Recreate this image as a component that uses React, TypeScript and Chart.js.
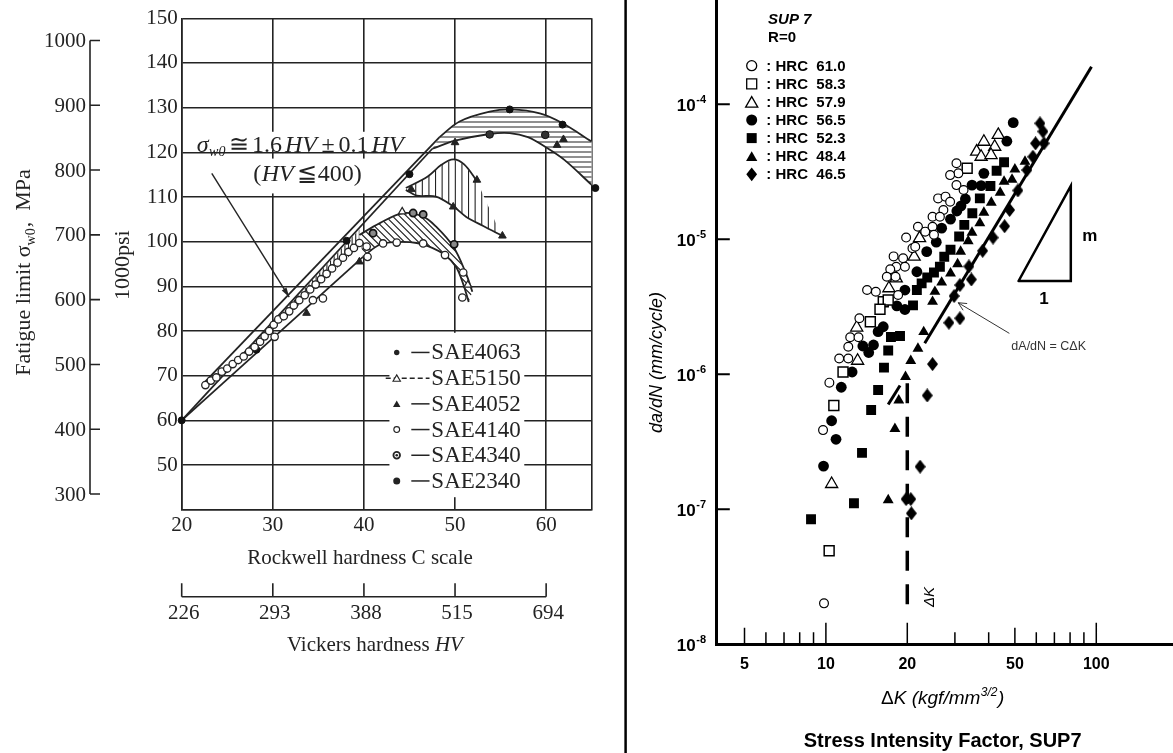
import React, { useEffect, useRef } from 'react';
import { Chart, registerables } from 'chart.js';

Chart.register(...registerables);

const SERIF = "'Liberation Serif', 'DejaVu Serif', 'Times New Roman', serif";
const SANS = "'Liberation Sans', Arial, Helvetica, sans-serif";
const INK = '#232323';
Chart.defaults.font.family = SANS;

/* ================= LEFT CHART DATA (fatigue limit vs hardness) ================= */
const rockwellTicks = [20, 30, 40, 50, 60, 65];
const rockwellTickLabels = ['20', '30', '40', '50', '60', ''];
const psiTicks = [40, 50, 60, 70, 80, 90, 100, 110, 120, 130, 140, 150];
const mpaTicks = [300, 400, 500, 600, 700, 800, 900, 1000];
const vickersAtRockwell = [20, 30, 40, 50, 60];
const vickersLabels = ['226', '293', '388', '515', '694'];
const steelNames = ['SAE4063', 'SAE5150', 'SAE4052', 'SAE4140', 'SAE4340', 'SAE2340'];

const sae4063 = [[20.0, 60.0], [28.2, 75.8], [38.1, 100.2], [45.0, 115.1], [56.0, 129.6], [61.8, 126.2], [65.4, 112.0]];
const sae5150 = [[44.2, 106.7], [51.4, 90.3]];
const sae4052 = [[33.7, 84.0], [39.5, 95.5], [45.2, 111.7], [49.8, 107.8], [50.0, 122.2], [52.4, 113.8], [55.2, 101.3], [61.2, 121.6], [61.9, 122.9]];
const sae4140 = [
  [22.6, 67.9], [23.2, 68.9], [23.8, 69.6], [24.4, 70.9], [25.0, 71.6], [25.6, 72.6], [26.2, 73.5], [26.8, 74.3],
  [27.4, 75.4], [28.0, 76.4], [28.6, 77.6], [29.1, 78.8], [29.6, 80.0], [30.1, 81.4], [30.2, 78.7], [30.6, 82.6],
  [31.2, 83.3], [31.8, 84.4], [32.3, 85.7], [32.9, 86.9], [33.5, 88.0], [34.1, 89.3], [34.4, 86.9], [34.7, 90.4],
  [35.3, 91.6], [35.5, 87.3], [35.9, 92.8], [36.5, 94.0], [37.1, 95.3], [37.7, 96.4], [38.3, 97.7], [38.9, 98.6],
  [39.5, 99.7], [40.3, 98.9], [40.4, 96.6], [42.1, 99.6], [43.6, 99.8], [46.5, 99.6], [48.9, 97.0], [50.9, 93.1], [50.8, 87.5],
];
const sae4340 = [[41.0, 101.9], [45.4, 106.4], [46.5, 106.1], [49.9, 99.4]];
const sae2340 = [[53.8, 124.0], [59.9, 123.9]];

const bandUpper = [[22.4, 68.3], [48.3, 123.4]];
const curveAUpper = [[48.3, 123.4], [50.5, 126.9], [53.8, 129.1], [56.2, 129.6], [59.3, 128.7], [61.8, 126.5], [65.0, 122.4]];
const bandMiddle = [[20.0, 60.0], [47.5, 120.8]];
const curveALower = [[47.5, 120.8], [50.0, 122.6], [53.8, 124.1], [56.0, 124.3], [58.0, 123.4], [60.0, 121.1], [62.0, 118.3], [65.0, 112.7]];
const bandLower = [[20.0, 60.0], [39.9, 96.6]];
const curveCLower = [[39.9, 96.6], [41.7, 99.3], [43.6, 99.9], [45.8, 99.7], [47.5, 98.6], [48.9, 97.0], [50.1, 94.4], [50.9, 90.5], [51.5, 86.5]];
const curveCUpper = [[39.5, 101.5], [41.7, 104.1], [44.3, 106.4], [46.5, 105.6], [47.9, 103.4], [49.8, 98.9], [51.2, 92.9], [51.9, 88.8]];
const curveBUpper = [[44.6, 112.0], [47.0, 114.6], [48.5, 117.2], [49.8, 118.4], [51.0, 117.3], [52.4, 113.6]];
const curveBLower = [[44.6, 111.6], [45.8, 110.3], [47.9, 110.1], [49.8, 107.9], [51.2, 105.6], [53.1, 103.5], [55.1, 101.4]];
const bandHatch = [[31.0, 84.0], [39.5, 102.8], [39.5, 99.0], [31.0, 82.0]];

/* ================= RIGHT CHART DATA (da/dN vs deltaK, SUP7) ================= */
const deltaKTicks = [5, 6, 7, 8, 9, 10, 20, 30, 40, 50, 60, 70, 80, 90, 100];
const deltaKLabels = ['5', '', '', '', '', '10', '20', '', '', '50', '', '', '', '', '100'];
const rateDecades = [1e-8, 1e-7, 1e-6, 1e-5, 1e-4];
const rateExponents = ['-8', '-7', '-6', '-5', '-4'];
const hardnessLabels = ['HRC  61.0', 'HRC  58.3', 'HRC  57.9', 'HRC  56.5', 'HRC  52.3', 'HRC  48.4', 'HRC  46.5'];

const hrc610 = [
  [30.4, 3.66e-5], [30.9, 3.08e-5], [28.8, 2.99e-5], [30.4, 2.52e-5], [32.3, 2.32e-5], [26.0, 2.01e-5], [27.7, 2.07e-5],
  [28.8, 1.90e-5], [27.2, 1.65e-5], [24.8, 1.47e-5], [26.4, 1.47e-5], [21.9, 1.24e-5], [23.3, 1.14e-5], [24.8, 1.24e-5],
  [25.1, 1.08e-5], [19.8, 1.03e-5], [20.9, 8.58e-6], [21.4, 8.81e-6], [19.3, 7.23e-6], [18.2, 6.26e-6], [19.6, 6.26e-6],
  [17.8, 7.47e-6], [17.3, 6.0e-6], [16.8, 5.28e-6], [18.1, 5.28e-6], [14.2, 4.21e-6], [15.3, 4.09e-6], [18.5, 3.87e-6],
  [13.3, 2.60e-6], [12.3, 1.88e-6], [13.2, 1.88e-6], [12.1, 1.60e-6], [11.2, 1.31e-6], [12.1, 1.31e-6], [10.3, 8.67e-7],
  [9.76, 3.86e-7], [9.84, 2.01e-8],
];
const hrc583 = [[33.3, 3.36e-5], [16.3, 3.45e-6], [17.0, 3.55e-6], [15.85, 3.03e-6], [14.6, 2.45e-6], [11.57, 1.04e-6], [10.7, 5.87e-7], [10.28, 4.93e-8]];
const hrc579 = [
  [43.4, 5.93e-5], [38.4, 5.28e-5], [42.1, 4.85e-5], [36.1, 4.46e-5], [37.5, 4.09e-5], [40.8, 4.21e-5], [22.2, 1.02e-5],
  [21.2, 7.43e-6], [18.2, 5.14e-6], [17.1, 4.34e-6], [13.0, 2.22e-6], [13.1, 1.26e-6], [10.5, 1.54e-7],
];
const hrc565 = [
  [49.3, 7.31e-5], [46.7, 5.33e-5], [38.4, 3.08e-5], [34.7, 2.52e-5], [37.5, 2.50e-5], [32.8, 1.99e-5], [31.6, 1.77e-5],
  [30.5, 1.62e-5], [28.9, 1.41e-5], [26.8, 1.21e-5], [25.6, 9.52e-6], [23.6, 8.1e-6], [21.7, 5.75e-6], [19.6, 4.21e-6],
  [18.3, 3.21e-6], [19.6, 3.02e-6], [16.3, 2.25e-6], [15.6, 2.07e-6], [13.7, 1.62e-6], [14.4, 1.45e-6], [15.0, 1.65e-6],
  [12.5, 1.04e-6], [11.4, 8.02e-7], [10.5, 4.53e-7], [10.9, 3.30e-7], [9.8, 2.09e-7],
];
const hrc523 = [
  [45.6, 3.72e-5], [42.8, 3.22e-5], [40.6, 2.48e-5], [37.1, 2.01e-5], [34.8, 1.56e-5], [32.5, 1.28e-5], [31.1, 1.05e-5],
  [28.9, 8.37e-6], [27.4, 7.43e-6], [26.4, 6.26e-6], [25.1, 5.68e-6], [23.7, 5.21e-6], [22.6, 4.72e-6], [21.7, 4.21e-6],
  [21.0, 3.24e-6], [18.8, 1.92e-6], [17.4, 1.89e-6], [17.0, 1.50e-6], [16.4, 1.12e-6], [15.6, 7.65e-7], [14.7, 5.44e-7],
  [13.6, 2.62e-7], [12.7, 1.11e-7], [8.81, 8.43e-8],
];
const hrc484 = [
  [54.5, 3.76e-5], [50.0, 3.30e-5], [48.8, 2.77e-5], [45.6, 2.68e-5], [44.1, 2.22e-5], [40.9, 1.87e-5], [38.4, 1.58e-5],
  [37.1, 1.32e-5], [34.7, 1.12e-5], [33.6, 9.71e-6], [31.5, 8.1e-6], [30.7, 6.56e-6], [28.9, 5.6e-6], [26.8, 4.79e-6],
  [25.3, 4.09e-6], [24.8, 3.45e-6], [23.0, 2.06e-6], [21.9, 1.55e-6], [20.6, 1.26e-6], [19.7, 9.59e-7], [18.6, 6.41e-7],
  [18.0, 3.94e-7], [17.0, 1.17e-7],
];
const hrc465 = [
  [61.9, 7.23e-5], [63.5, 6.29e-5], [59.6, 5.14e-5], [64.1, 5.14e-5], [58.3, 4.09e-5], [55.4, 3.26e-5], [51.3, 2.3e-5],
  [47.8, 1.65e-5], [45.8, 1.25e-5], [41.5, 1.03e-5], [38.0, 8.22e-6], [33.8, 6.3e-6], [34.5, 5.04e-6], [31.3, 4.58e-6],
  [29.8, 3.8e-6], [28.5, 2.41e-6], [31.3, 2.6e-6], [24.8, 1.19e-6], [23.7, 6.97e-7], [22.3, 2.07e-7], [20.6, 1.19e-7],
  [19.8, 1.19e-7], [20.7, 9.33e-8],
];
const powerLaw = [[23.2, 1.70e-6], [96.0, 1.9e-4]];
const powerLawDash = [[17.0, 5.97e-7], [18.8, 8.26e-7]];
const thresholdLine = [[20, 8.6e-7], [20, 1.92e-8]];
const slopeTriangle = [[51.6, 4.91e-6], [80.5, 4.91e-6], [80.5, 2.49e-5], [51.6, 4.91e-6]];

/* ================= helpers ================= */
const toPts = (pairs: number[][]) => pairs.map(([x, y]) => ({ x, y }));

function drawMarker(ctx: any, kind: string, x: number, y: number, r: number, filled: boolean, lw = 1.3, color = '#000') {
  ctx.save();
  ctx.beginPath();
  if (kind === 'circle') ctx.arc(x, y, r, 0, Math.PI * 2);
  else if (kind === 'square') ctx.rect(x - r, y - r, 2 * r, 2 * r);
  else if (kind === 'triangle') {
    ctx.moveTo(x, y - r);
    ctx.lineTo(x + r * 0.866, y + r * 0.5);
    ctx.lineTo(x - r * 0.866, y + r * 0.5);
    ctx.closePath();
  } else if (kind === 'diamond') {
    ctx.moveTo(x, y - r * 1.27);
    ctx.lineTo(x + r, y);
    ctx.lineTo(x, y + r * 1.27);
    ctx.lineTo(x - r, y);
    ctx.closePath();
  }
  if (filled) {
    ctx.fillStyle = color;
    ctx.fill();
  } else {
    ctx.fillStyle = '#fff';
    ctx.fill();
    ctx.lineWidth = lw;
    ctx.strokeStyle = color;
    ctx.stroke();
  }
  ctx.restore();
}

function hatchRegion(chart: any, pairs: number[][], mode: string, gap: number) {
  const { ctx } = chart;
  const X = chart.scales.x;
  const Y = chart.scales.y;
  const pts = pairs.map(([x, y]) => [X.getPixelForValue(x), Y.getPixelForValue(y)]);
  let x0 = Infinity, x1 = -Infinity, y0 = Infinity, y1 = -Infinity;
  pts.forEach(([a, b]) => {
    x0 = Math.min(x0, a); x1 = Math.max(x1, a); y0 = Math.min(y0, b); y1 = Math.max(y1, b);
  });
  ctx.save();
  ctx.beginPath();
  pts.forEach(([a, b], i) => (i ? ctx.lineTo(a, b) : ctx.moveTo(a, b)));
  ctx.closePath();
  ctx.fillStyle = '#fff';
  ctx.fill();
  ctx.clip();
  ctx.beginPath();
  if (mode === 'h') {
    for (let y = y0 + gap / 2; y < y1; y += gap) { ctx.moveTo(x0, y); ctx.lineTo(x1, y); }
  } else if (mode === 'v') {
    for (let x = x0 + gap / 2; x < x1; x += gap) { ctx.moveTo(x, y0); ctx.lineTo(x, y1); }
  } else {
    const h = y1 - y0;
    for (let x = x0 - h; x < x1; x += gap) { ctx.moveTo(x, y0); ctx.lineTo(x + h, y1); }
  }
  ctx.strokeStyle = INK;
  ctx.lineWidth = 1.1;
  ctx.stroke();
  ctx.restore();
}

type Run = [string, string, number?, number?];
function runsWidth(ctx: any, runs: Run[]) {
  let w = 0;
  runs.forEach(([t, f, , g]) => { ctx.font = f; w += ctx.measureText(t).width + (g || 0); });
  return w;
}
function drawRuns(ctx: any, x: number, y: number, runs: Run[]) {
  let cx = x;
  runs.forEach(([t, f, dy, g]) => {
    ctx.font = f;
    ctx.fillText(t, cx, y + (dy || 0));
    cx += ctx.measureText(t).width + (g || 0);
  });
}

/* ================= LEFT CHART ================= */
const leftDecor = {
  id: 'leftDecor',
  beforeDatasetsDraw(chart: any) {
    const { ctx } = chart;
    const X = chart.scales.x;
    const Y = chart.scales.y;
    const box = (xa: number, xb: number, ya: number, yb: number) => {
      const l = X.getPixelForValue(xa), r = X.getPixelForValue(xb);
      const t = Y.getPixelForValue(yb), b = Y.getPixelForValue(ya);
      ctx.fillRect(l, t, r - l, b - t);
    };
    ctx.save();
    ctx.fillStyle = '#fff';
    box(42.8, 57.6, 42.8, 79.6); // legend panel
    box(21.3, 46.3, 120.5, 124.6); // formula line 1
    box(27.4, 41.2, 110.8, 118.6); // formula line 2
    ctx.restore();
    hatchRegion(chart, bandHatch, 'v', 3.6);
    hatchRegion(chart, [...curveCUpper, ...curveCLower.slice().reverse()], 'd', 7);
    hatchRegion(chart, [...curveBUpper, ...curveBLower.slice().reverse()], 'v', 6.6);
    hatchRegion(chart, [...curveAUpper, ...curveALower.slice().reverse()], 'h', 5);
  },
  afterDatasetsDraw(chart: any) {
    const { ctx } = chart;
    const X = chart.scales.x;
    const Y = chart.scales.y;
    ctx.save();
    ctx.fillStyle = INK;
    ctx.strokeStyle = INK;
    // legend
    const top = Y.getPixelForValue(75.2);
    const mx = X.getPixelForValue(43.6);
    const d0 = X.getPixelForValue(45.2);
    const d1 = X.getPixelForValue(47.2);
    const tx = X.getPixelForValue(47.4);
    const kinds = [
      ['circle', true, 2.7], ['triangle', false, 4.3], ['triangle', true, 4.3],
      ['circle', false, 2.9], ['ring', true, 3.3], ['circle', true, 3.5],
    ];
    steelNames.forEach((name, i) => {
      const y = top + i * 25.7;
      ctx.lineWidth = 1.5;
      ctx.setLineDash(i === 1 ? [5, 3] : []);
      ctx.beginPath();
      if (i === 1) { ctx.moveTo(mx - 11, y); ctx.lineTo(d1, y); } else { ctx.moveTo(d0, y); ctx.lineTo(d1, y); }
      ctx.stroke();
      ctx.setLineDash([]);
      const [k, f, r] = kinds[i] as any;
      if (k === 'ring') {
        drawMarker(ctx, 'circle', mx, y, r, false, 1.8, INK);
        drawMarker(ctx, 'circle', mx, y, 1.3, true, 1, INK);
      } else {
        drawMarker(ctx, k, mx, y + (k === 'triangle' ? 1 : 0), r, f, 1.1, INK);
      }
      ctx.font = `23px ${SERIF}`;
      ctx.textAlign = 'left';
      ctx.textBaseline = 'middle';
      ctx.fillText(name, tx, y + 1);
    });
    // formula
    const base1 = Y.getPixelForValue(120) - 0.5;
    ctx.textAlign = 'left';
    ctx.textBaseline = 'alphabetic';
    const it = `italic 24px ${SERIF}`;
    const up = `24px ${SERIF}`;
    drawRuns(ctx, X.getPixelForValue(21.65), base1, [
      ['σ', it, 0, 0.5], ['w0', `italic 14px ${SERIF}`, 4, 3.5], ['≅', up, 0, 3], ['1.6', up, 0, 3],
      ['HV', it, 0, 4.5], ['±', up, 0, 4], ['0.1', up, 0, 3], ['HV', it, 0, 0],
    ]);
    drawRuns(ctx, X.getPixelForValue(27.85), base1 + 29, [
      ['(', up, 0, 0.5], ['HV', it, 0, 3], ['≦', up, 0, 1], ['400', up, 0, 0], [')', up, 0, 0],
    ]);
    // arrow to the band
    const ax0 = X.getPixelForValue(23.3), ay0 = Y.getPixelForValue(115.3);
    const ax1 = X.getPixelForValue(31.8), ay1 = Y.getPixelForValue(87.6);
    ctx.lineWidth = 1.4;
    ctx.beginPath();
    ctx.moveTo(ax0, ay0);
    ctx.lineTo(ax1, ay1);
    ctx.stroke();
    const ang = Math.atan2(ay1 - ay0, ax1 - ax0);
    ctx.beginPath();
    ctx.moveTo(ax1, ay1);
    ctx.lineTo(ax1 - 10 * Math.cos(ang - 0.28), ay1 - 10 * Math.sin(ang - 0.28));
    ctx.lineTo(ax1 - 10 * Math.cos(ang + 0.28), ay1 - 10 * Math.sin(ang + 0.28));
    ctx.closePath();
    ctx.fill();
    ctx.restore();
  },
  afterDraw(chart: any) {
    const { ctx, chartArea: a } = chart;
    const X = chart.scales.x;
    const Y = chart.scales.y;
    ctx.save();
    ctx.fillStyle = INK;
    ctx.strokeStyle = INK;
    // MPa axis (same scale, unit conversion 1 ksi = 6.895 MPa)
    const ax = a.left - 91.7;
    ctx.lineWidth = 1.6;
    ctx.beginPath();
    ctx.moveTo(ax, Y.getPixelForValue(1000 / 6.895));
    ctx.lineTo(ax, Y.getPixelForValue(300 / 6.895));
    mpaTicks.forEach((m) => {
      const p = Y.getPixelForValue(m / 6.895);
      ctx.moveTo(ax, p);
      ctx.lineTo(ax + 10, p);
    });
    ctx.stroke();
    ctx.font = `21px ${SERIF}`;
    ctx.textAlign = 'right';
    ctx.textBaseline = 'middle';
    mpaTicks.forEach((m) => ctx.fillText(String(m), ax - 4, Y.getPixelForValue(m / 6.895) + 1));
    // rotated titles
    const runs: Run[] = [
      ['Fatigue limit σ', `22px ${SERIF}`, 0, 0],
      ['w0', `14px ${SERIF}`, 5, 1],
      [',  MPa', `22px ${SERIF}`, 0, 0],
    ];
    ctx.save();
    ctx.translate(a.left - 160, 272.5);
    ctx.rotate(-Math.PI / 2);
    ctx.textAlign = 'left';
    ctx.textBaseline = 'alphabetic';
    const w = runsWidth(ctx, runs);
    drawRuns(ctx, -w / 2, 8, runs);
    ctx.restore();
    ctx.save();
    ctx.translate(a.left - 60, 265.2);
    ctx.rotate(-Math.PI / 2);
    ctx.font = `22px ${SERIF}`;
    ctx.textAlign = 'center';
    ctx.textBaseline = 'alphabetic';
    ctx.fillText('1000psi', 0, 7);
    ctx.restore();
    // Rockwell title
    ctx.font = `21px ${SERIF}`;
    ctx.textAlign = 'center';
    ctx.textBaseline = 'middle';
    ctx.fillText('Rockwell hardness C scale', a.left + 178.3, a.bottom + 48.6);
    // Vickers axis
    const vy = a.bottom + 87;
    ctx.lineWidth = 1.6;
    ctx.beginPath();
    ctx.moveTo(X.getPixelForValue(20), vy);
    ctx.lineTo(X.getPixelForValue(60), vy);
    vickersAtRockwell.forEach((v) => {
      const p = X.getPixelForValue(v);
      ctx.moveTo(p, vy);
      ctx.lineTo(p, vy - 13.4);
    });
    ctx.stroke();
    vickersAtRockwell.forEach((v, i) => ctx.fillText(vickersLabels[i], X.getPixelForValue(v) + 2, a.bottom + 104));
    ctx.textAlign = 'left';
    drawRuns(ctx, X.getPixelForValue(31.55), a.bottom + 135.5, [
      ['Vickers hardness ', `21px ${SERIF}`, 0, 0],
      ['HV', `italic 21px ${SERIF}`, 0, 0],
    ]);
    ctx.restore();
  },
};

function LeftChart() {
  const ref = useRef<HTMLCanvasElement>(null);
  useEffect(() => {
    const lineDs = (pairs: number[][], tension = 0) => ({
      type: 'line',
      data: toPts(pairs),
      borderColor: INK,
      borderWidth: 1.8,
      pointRadius: 0,
      pointHoverRadius: 0,
      tension,
      fill: false,
      order: 5,
    });
    const ptDs = (label: string, pairs: number[][], style: string, radius: number, bg: string, border: string, bw: number) => ({
      type: 'scatter',
      label,
      data: toPts(pairs),
      pointStyle: style,
      pointRadius: radius,
      pointHoverRadius: radius,
      backgroundColor: bg,
      borderColor: border,
      borderWidth: bw,
      clip: false,
      order: 1,
    });
    const chart = new Chart(ref.current as HTMLCanvasElement, {
      type: 'scatter',
      data: {
        datasets: [
          lineDs(bandUpper), lineDs(curveAUpper, 0.35), lineDs(bandMiddle), lineDs(curveALower, 0.35),
          lineDs(bandLower), lineDs(curveCLower, 0.35), lineDs(curveCUpper, 0.35),
          lineDs(curveBUpper, 0.35), lineDs(curveBLower, 0.35),
          ptDs('SAE4140', sae4140, 'circle', 3.7, '#fff', INK, 1.3),
          ptDs('SAE5150', sae5150, 'triangle', 4.4, '#fff', INK, 1.2),
          ptDs('SAE4052', sae4052, 'triangle', 4.4, INK, INK, 1),
          ptDs('SAE4340', sae4340, 'circle', 3.6, '#8a8a8a', '#111', 1.7),
          ptDs('SAE2340', sae2340, 'circle', 3.8, '#333', '#111', 1),
          ptDs('SAE4063', sae4063, 'circle', 3.5, '#111', '#111', 1),
        ] as any,
      },
      options: {
        responsive: false,
        animation: false,
        events: [],
        layout: { padding: { top: 18.3, right: 18.3, left: 0, bottom: 0 }, autoPadding: false },
        plugins: { legend: { display: false }, tooltip: { enabled: false }, title: { display: false } },
        scales: {
          x: {
            type: 'linear', min: 20, max: 65,
            afterBuildTicks: (s: any) => { s.ticks = rockwellTicks.map((v) => ({ value: v })); },
            afterFit: (s: any) => { s.height = 243.3; },
            ticks: {
              autoSkip: false, maxRotation: 0, padding: 3, color: INK,
              font: { family: SERIF, size: 21 },
              callback: (_v: any, i: number) => rockwellTickLabels[i],
            },
            grid: { color: INK, lineWidth: 1.6, drawTicks: false },
            border: { color: INK, width: 1.6 },
          },
          y: {
            type: 'linear', min: 40, max: 150,
            afterBuildTicks: (s: any) => { s.ticks = psiTicks.map((v) => ({ value: v })); },
            afterFit: (s: any) => { s.width = 181.7; },
            ticks: {
              padding: 4, color: INK,
              font: { family: SERIF, size: 21 },
              callback: (v: any) => (v === 40 ? '' : String(v)),
            },
            grid: { color: INK, lineWidth: 1.6, drawTicks: false },
            border: { color: INK, width: 1.6 },
          },
        },
      } as any,
      plugins: [leftDecor],
    });
    return () => chart.destroy();
  }, []);
  return (
    <canvas
      ref={ref}
      width={610}
      height={753}
      style={{ position: 'absolute', left: 0, top: 0, width: 610, height: 753, display: 'block' }}
    />
  );
}

/* ================= RIGHT CHART ================= */
const rightDecor = {
  id: 'rightDecor',
  afterDraw(chart: any) {
    const { ctx, chartArea: a } = chart;
    const X = chart.scales.x;
    const Y = chart.scales.y;
    ctx.save();
    ctx.fillStyle = '#000';
    ctx.strokeStyle = '#000';
    // panel separator
    ctx.lineWidth = 2.5;
    ctx.beginPath();
    ctx.moveTo(a.left - 90.6, 0);
    ctx.lineTo(a.left - 90.6, chart.height);
    ctx.stroke();
    // inward tick marks on x axis
    ctx.lineWidth = 1.5;
    ctx.beginPath();
    deltaKTicks.forEach((v) => {
      const p = X.getPixelForValue(v);
      const len = v === 10 || v === 100 || v === 20 ? 21.5 : v === 5 || v === 50 ? 16.5 : 12;
      ctx.moveTo(p, a.bottom);
      ctx.lineTo(p, a.bottom - len);
    });
    ctx.stroke();
    // inward tick marks on y axis
    ctx.lineWidth = 2;
    ctx.beginPath();
    rateDecades.forEach((v) => {
      const p = Y.getPixelForValue(v);
      ctx.moveTo(a.left, p);
      ctx.lineTo(a.left + 13.6, p);
    });
    ctx.stroke();
    // y tick labels with superscript exponents
    rateDecades.forEach((v, i) => {
      const p = Y.getPixelForValue(v);
      const right = a.left - 10.2;
      ctx.font = `bold 11px ${SANS}`;
      const ew = ctx.measureText(rateExponents[i]).width;
      ctx.textAlign = 'left';
      ctx.textBaseline = 'alphabetic';
      ctx.fillText(rateExponents[i], right - ew, p - 1.5);
      ctx.font = `bold 17px ${SANS}`;
      ctx.textAlign = 'right';
      ctx.fillText('10', right - ew - 0.5, p + 6.2);
    });
    // y title
    ctx.save();
    ctx.translate(a.left - 59.6, 362.5);
    ctx.rotate(-Math.PI / 2);
    ctx.font = `italic 18px ${SANS}`;
    ctx.textAlign = 'center';
    ctx.textBaseline = 'middle';
    ctx.fillText('da/dN (mm/cycle)', 0, 0);
    ctx.restore();
    // x title with superscript
    const xr: Run[] = [
      ['Δ', `19px ${SANS}`, 0, 0],
      ['K (kgf/mm', `italic 19px ${SANS}`, 0, 0.5],
      ['3/2', `italic 12px ${SANS}`, -8, 0.5],
      [')', `italic 19px ${SANS}`, 0, 0],
    ];
    ctx.textAlign = 'left';
    ctx.textBaseline = 'alphabetic';
    const xw = runsWidth(ctx, xr);
    drawRuns(ctx, 332.7 - xw / 2, 703.5, xr);
    // bottom title
    ctx.font = `bold 20px ${SANS}`;
    ctx.textAlign = 'center';
    ctx.textBaseline = 'middle';
    ctx.fillText('Stress Intensity Factor, SUP7', 332.6, 741.7);
    // header and legend
    const lx = a.left + 35.5;
    const tx = a.left + 50.1;
    ctx.textAlign = 'left';
    ctx.font = `italic bold 15px ${SANS}`;
    ctx.fillText('SUP 7', a.left + 51.9, 20);
    ctx.font = `bold 15px ${SANS}`;
    ctx.fillText('R=0', a.left + 51.9, 38.3);
    const legendMarks: [string, boolean, number][] = [
      ['circle', false, 5], ['square', false, 5], ['triangle', false, 7], ['circle', true, 5.5],
      ['square', true, 5], ['triangle', true, 6.5], ['diamond', true, 5.4],
    ];
    hardnessLabels.forEach((lab, i) => {
      const y = 65.7 + i * 18.1;
      const [k, f, r] = legendMarks[i];
      drawMarker(ctx, k, lx, k === 'triangle' ? y + r / 4 : y, r, f, 1.3, '#000');
      ctx.fillStyle = '#000';
      ctx.font = `bold 15px ${SANS}`;
      ctx.textBaseline = 'middle';
      ctx.fillText(': ' + lab, tx, y + 1);
    });
    // slope labels
    ctx.font = `bold 17px ${SANS}`;
    ctx.textAlign = 'center';
    ctx.fillText('m', X.getPixelForValue(94.6), Y.getPixelForValue(1.05e-5));
    ctx.fillText('1', X.getPixelForValue(64.1), Y.getPixelForValue(3.61e-6));
    // threshold label
    ctx.save();
    ctx.translate(X.getPixelForValue(20) + 22.5, 597);
    ctx.rotate(-Math.PI / 2);
    ctx.font = `italic 15px ${SANS}`;
    ctx.textAlign = 'center';
    ctx.textBaseline = 'middle';
    ctx.fillText('ΔK', 0, 0);
    ctx.restore();
    // law annotation + arrow
    const sx = X.getPixelForValue(47.7), sy = Y.getPixelForValue(2.01e-6);
    const ex = X.getPixelForValue(30.85), ey = Y.getPixelForValue(3.39e-6);
    ctx.strokeStyle = '#333';
    ctx.lineWidth = 1;
    ctx.beginPath();
    ctx.moveTo(sx, sy);
    ctx.lineTo(ex, ey);
    const ang = Math.atan2(ey - sy, ex - sx);
    ctx.moveTo(ex, ey);
    ctx.lineTo(ex - 9 * Math.cos(ang - 0.45), ey - 9 * Math.sin(ang - 0.45));
    ctx.moveTo(ex, ey);
    ctx.lineTo(ex - 9 * Math.cos(ang + 0.45), ey - 9 * Math.sin(ang + 0.45));
    ctx.stroke();
    ctx.fillStyle = '#333';
    ctx.font = `12.5px ${SANS}`;
    ctx.textAlign = 'left';
    ctx.textBaseline = 'middle';
    ctx.fillText('dA/dN = CΔK', sx + 2, sy + 13.5);
    ctx.restore();
  },
};

function makeDiamond(w: number, h: number) {
  const c = document.createElement('canvas');
  c.width = w;
  c.height = h;
  const g = c.getContext('2d') as CanvasRenderingContext2D;
  g.fillStyle = '#000';
  g.beginPath();
  g.moveTo(w / 2, 0);
  g.lineTo(w, h / 2);
  g.lineTo(w / 2, h);
  g.lineTo(0, h / 2);
  g.closePath();
  g.fill();
  return c;
}

function RightChart() {
  const ref = useRef<HTMLCanvasElement>(null);
  useEffect(() => {
    const diamond = makeDiamond(11, 14);
    const ptDs = (label: string, pairs: number[][], style: any, radius: number, filled: boolean, bw = 1.3) => ({
      type: 'scatter',
      label,
      data: toPts(pairs),
      pointStyle: style,
      pointRadius: radius,
      pointHoverRadius: radius,
      backgroundColor: filled ? '#000' : '#fff',
      borderColor: '#000',
      borderWidth: filled ? 0 : bw,
      order: 1,
    });
    const lineDs = (pairs: number[][], width: number, dash: number[] = []) => ({
      type: 'line',
      data: toPts(pairs),
      borderColor: '#000',
      borderWidth: width,
      borderDash: dash,
      pointRadius: 0,
      pointHoverRadius: 0,
      tension: 0,
      fill: false,
      order: 5,
    });
    const chart = new Chart(ref.current as HTMLCanvasElement, {
      type: 'scatter',
      data: {
        datasets: [
          lineDs(powerLaw, 3),
          lineDs(powerLawDash, 3),
          lineDs(thresholdLine, 3.5, [20, 13.5]),
          { ...lineDs(slopeTriangle, 2.5), borderJoinStyle: 'miter', borderCapStyle: 'round' },
          ptDs(hardnessLabels[0], hrc610, 'circle', 4.4, false, 1.2),
          ptDs(hardnessLabels[1], hrc583, 'rect', 7, false, 1.5),
          ptDs(hardnessLabels[2], hrc579, 'triangle', 7, false, 1.3),
          ptDs(hardnessLabels[3], hrc565, 'circle', 5.4, true),
          ptDs(hardnessLabels[4], hrc523, 'rect', 7, true),
          ptDs(hardnessLabels[5], hrc484, 'triangle', 6.3, true),
          ptDs(hardnessLabels[6], hrc465, diamond, 6, true),
        ] as any,
      },
      options: {
        responsive: false,
        animation: false,
        events: [],
        layout: { padding: 0, autoPadding: false },
        plugins: { legend: { display: false }, tooltip: { enabled: false }, title: { display: false } },
        scales: {
          x: {
            type: 'logarithmic', min: 3.929, max: 192.2,
            afterBuildTicks: (s: any) => { s.ticks = deltaKTicks.map((v) => ({ value: v })); },
            afterFit: (s: any) => { s.height = 108.7; },
            ticks: {
              autoSkip: false, maxRotation: 0, padding: 11, color: '#000',
              font: { family: SANS, size: 16, weight: 'bold' },
              callback: (_v: any, i: number) => deltaKLabels[i],
            },
            grid: { display: false, drawTicks: false },
            border: { display: true, color: '#000', width: 3 },
          },
          y: {
            type: 'logarithmic', min: 1e-8, max: 5.925e-4,
            afterBuildTicks: (s: any) => { s.ticks = rateDecades.map((v) => ({ value: v })); },
            afterFit: (s: any) => { s.width = 106.2; },
            ticks: { display: false },
            grid: { display: false, drawTicks: false },
            border: { display: true, color: '#000', width: 3 },
          },
        },
      } as any,
      plugins: [rightDecor],
    });
    return () => chart.destroy();
  }, []);
  return (
    <canvas
      ref={ref}
      width={563}
      height={753}
      style={{ position: 'absolute', left: 610, top: 0, width: 563, height: 753, display: 'block' }}
    />
  );
}

export default function App() {
  return (
    <div style={{ position: 'absolute', left: 0, top: 0, width: 1173, height: 753, background: '#fff', overflow: 'hidden' }}>
      <LeftChart />
      <RightChart />
    </div>
  );
}
